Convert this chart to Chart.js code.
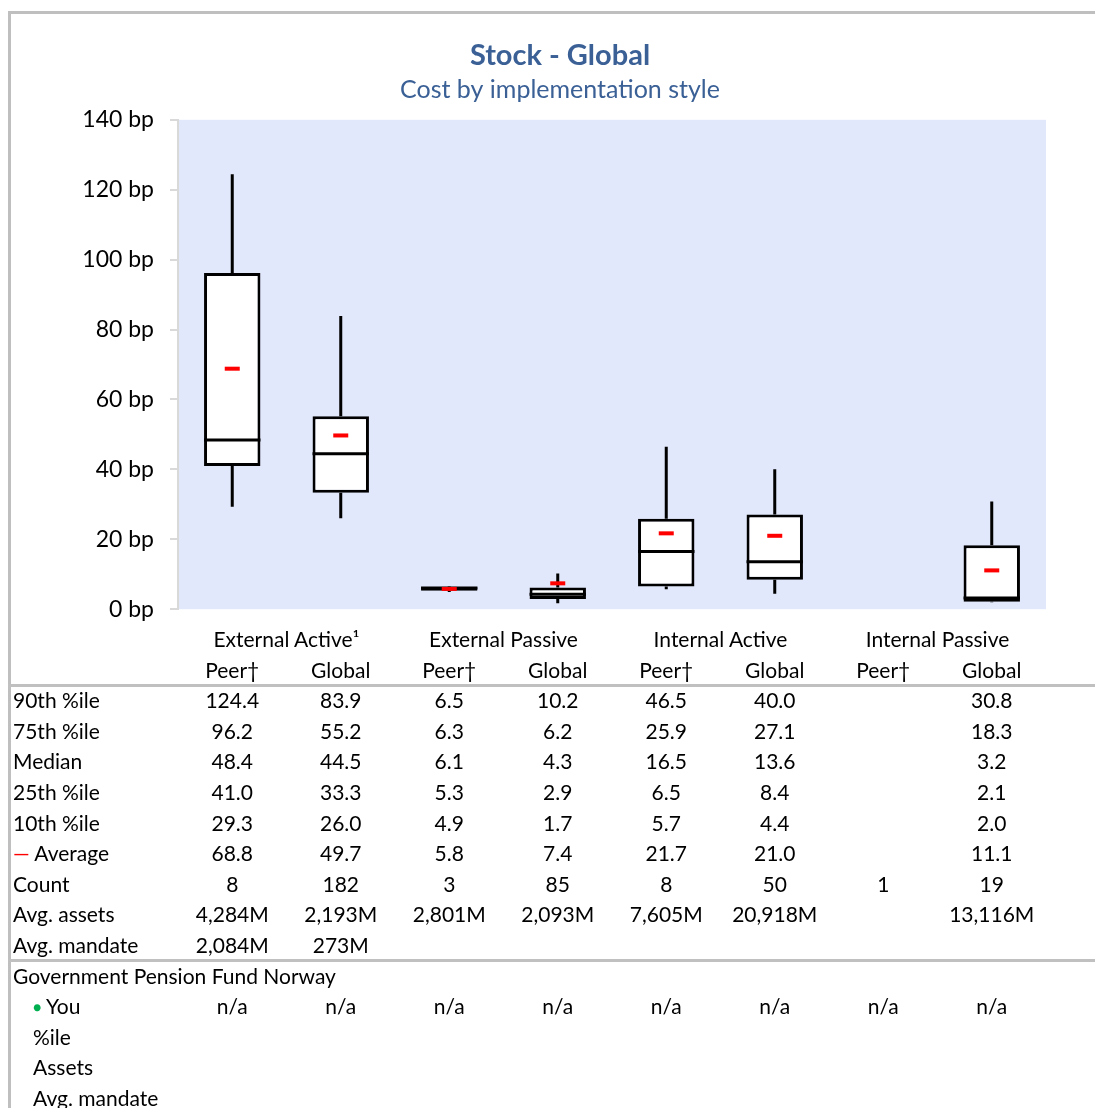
<!DOCTYPE html>
<html>
<head>
<meta charset="utf-8">
<script src="https://cdn.jsdelivr.net/npm/chart.js@4.4.1/dist/chart.umd.min.js"></script>
<style>
  body { margin: 0; background: #fff; font-family: Lato, "Open Sans", sans-serif; }
  #page { position: relative; width: 1095px; height: 1108px; overflow: hidden; }
  #frame { position: absolute; left: 8px; top: 11px; width: 1200px; height: 1200px;
           border: 3px solid #bfbfbf; box-sizing: border-box; }
  #chart-box { position: absolute; left: 0; top: 0; width: 1095px; height: 639px; }
  .row { position: absolute; left: 0; width: 1095px; height: 30.6px; line-height: 30.6px;
         font-size: 21px; color: #000; white-space: nowrap; }
  .row .lbl { position: absolute; left: 13px; }
  .row .lbl.ind { left: 33px; }
  .row .cell { position: absolute; width: 108.5px; text-align: center; }
  .row .grp { position: absolute; width: 217px; text-align: center; }
  .sep { position: absolute; left: 8px; width: 1100px; height: 3px; background: #c0c0c0; }
</style>
</head>
<body>
<div id="page">
  <div id="frame"></div>
  <div id="chart-box"><canvas id="box-chart"></canvas></div>
  <div id="table"></div>
</div>
<script>
// Chart data
const groups = ["External Active¹", "External Passive", "Internal Active", "Internal Passive"];
const subLabels = ["Peer†", "Global", "Peer†", "Global", "Peer†", "Global", "Peer†", "Global"];
const p90 = [124.4, 83.9, 6.5, 10.2, 46.5, 40.0, null, 30.8];
const p75 = [96.2, 55.2, 6.3, 6.2, 25.9, 27.1, null, 18.3];
const median = [48.4, 44.5, 6.1, 4.3, 16.5, 13.6, null, 3.2];
const p25 = [41.0, 33.3, 5.3, 2.9, 6.5, 8.4, null, 2.1];
const p10 = [29.3, 26.0, 4.9, 1.7, 5.7, 4.4, null, 2.0];
const average = [68.8, 49.7, 5.8, 7.4, 21.7, 21.0, null, 11.1];
const counts = [8, 182, 3, 85, 8, 50, 1, 19];
const avgAssets = ["4,284M", "2,193M", "2,801M", "2,093M", "7,605M", "20,918M", "", "13,116M"];
const avgMandate = ["2,084M", "273M", "", "", "", "", "", ""];
const youValues = ["n/a", "n/a", "n/a", "n/a", "n/a", "n/a", "n/a", "n/a"];
const yTicks = [0, 20, 40, 60, 80, 100, 120, 140];

const FONT = "Lato, 'Open Sans', sans-serif";
const TITLE_BLUE = "#3a6096";

// plot background
const plotBg = {
  id: "plotBg",
  beforeDraw(chart) {
    const { ctx, chartArea: a } = chart;
    ctx.save();
    ctx.fillStyle = "#e2e8fb";
    ctx.fillRect(a.left, a.top, a.right - a.left, a.bottom - a.top);
    ctx.restore();
  }
};

// whiskers, median and average marks
const boxMarks = {
  id: "boxMarks",
  afterDatasetsDraw(chart) {
    const { ctx, scales: { y } } = chart;
    const meta = chart.getDatasetMeta(0);
    ctx.save();
    meta.data.forEach((bar, i) => {
      if (p25[i] == null) return;
      const x = bar.x;
      const half = bar.width / 2;
      ctx.strokeStyle = "#000";
      ctx.lineWidth = 3;
      ctx.beginPath();
      ctx.moveTo(x, y.getPixelForValue(p90[i]));
      ctx.lineTo(x, y.getPixelForValue(p75[i]));
      ctx.moveTo(x, y.getPixelForValue(p25[i]));
      ctx.lineTo(x, y.getPixelForValue(p10[i]));
      ctx.stroke();
      ctx.beginPath();
      const ym = y.getPixelForValue(median[i]);
      ctx.moveTo(x - half, ym);
      ctx.lineTo(x + half, ym);
      ctx.stroke();
      ctx.fillStyle = "#ff0000";
      const ya = y.getPixelForValue(average[i]);
      ctx.fillRect(x - 7.5, ya - 2, 15, 4);
    });
    ctx.restore();
  }
};

new Chart(document.getElementById("box-chart"), {
  type: "bar",
  data: {
    labels: subLabels,
    datasets: [{
      data: p25.map((v, i) => v == null ? null : [v, p75[i]]),
      backgroundColor: "#ffffff",
      borderColor: "#000000",
      borderWidth: 3,
      borderSkipped: false,
      barPercentage: 0.52,
      categoryPercentage: 1
    }]
  },
  options: {
    responsive: true,
    maintainAspectRatio: false,
    animation: false,
    layout: { padding: { top: 0, left: 74, right: 49, bottom: 2 } },
    plugins: {
      legend: { display: false },
      tooltip: { enabled: false },
      title: {
        display: true,
        text: "Stock - Global",
        color: TITLE_BLUE,
        font: { family: FONT, size: 29, weight: "bold" },
        padding: { top: 38, bottom: 0 }
      },
      subtitle: {
        display: true,
        text: "Cost by implementation style",
        color: TITLE_BLUE,
        font: { family: FONT, size: 25 },
        padding: { top: 2, bottom: 15 }
      }
    },
    scales: {
      x: { display: false, offset: true },
      y: {
        min: 0,
        max: 140,
        afterBuildTicks: s => { s.ticks = yTicks.map(v => ({ value: v })); },
        afterFit: s => { s.width = 104; },
        ticks: {
          padding: 16,
          color: "#000",
          font: { family: FONT, size: 23 },
          callback: v => v + " bp"
        },
        grid: { drawOnChartArea: false, drawTicks: true, tickLength: 8, color: "#d9d9d9", lineWidth: 2 },
        border: { display: true, color: "#d9d9d9", width: 2 }
      }
    }
  },
  plugins: [plotBg, boxMarks]
});

// table under the chart
const ROW0 = 624;
const ROW_H = 30.6;
const COL0 = 178;
const COL_W = 108.5;
const table = document.getElementById("table");

function addRow(k, label, values, opts = {}) {
  const row = document.createElement("div");
  row.className = "row";
  row.style.top = (ROW0 + k * ROW_H) + "px";
  if (label) {
    const l = document.createElement("span");
    l.className = "lbl" + (opts.indent ? " ind" : "");
    l.innerHTML = label;
    row.appendChild(l);
  }
  (values || []).forEach((v, i) => {
    const c = document.createElement("span");
    c.className = "cell";
    c.style.left = (COL0 + i * COL_W) + "px";
    c.textContent = v;
    row.appendChild(c);
  });
  table.appendChild(row);
  return row;
}

function fmt(arr) { return arr.map(v => v == null ? "" : v.toFixed(1)); }

const groupRow = addRow(0, "", []);
groups.forEach((g, i) => {
  const c = document.createElement("span");
  c.className = "grp";
  c.style.left = (COL0 + i * 2 * COL_W) + "px";
  c.textContent = g;
  groupRow.appendChild(c);
});
addRow(1, "", subLabels);
addRow(2, "90th %ile", fmt(p90));
addRow(3, "75th %ile", fmt(p75));
addRow(4, "Median", fmt(median));
addRow(5, "25th %ile", fmt(p25));
addRow(6, "10th %ile", fmt(p10));
addRow(7, '<span style="color:#ff0000">—</span> Average', fmt(average));
addRow(8, "Count", counts.map(String));
addRow(9, "Avg. assets", avgAssets);
addRow(10, "Avg. mandate", avgMandate);
addRow(11, "Government Pension Fund Norway", []);
addRow(12, '<span style="color:#00b050;font-size:14px;vertical-align:2px">●</span> You', youValues, { indent: true });
addRow(13, "%ile", [], { indent: true });
addRow(14, "Assets", [], { indent: true });
addRow(15, "Avg. mandate", [], { indent: true });

[ROW0 + 2 * ROW_H - 1.5, ROW0 + 11 * ROW_H - 1.5].forEach(t => {
  const s = document.createElement("div");
  s.className = "sep";
  s.style.top = t + "px";
  table.appendChild(s);
});
</script>
</body>
</html>
